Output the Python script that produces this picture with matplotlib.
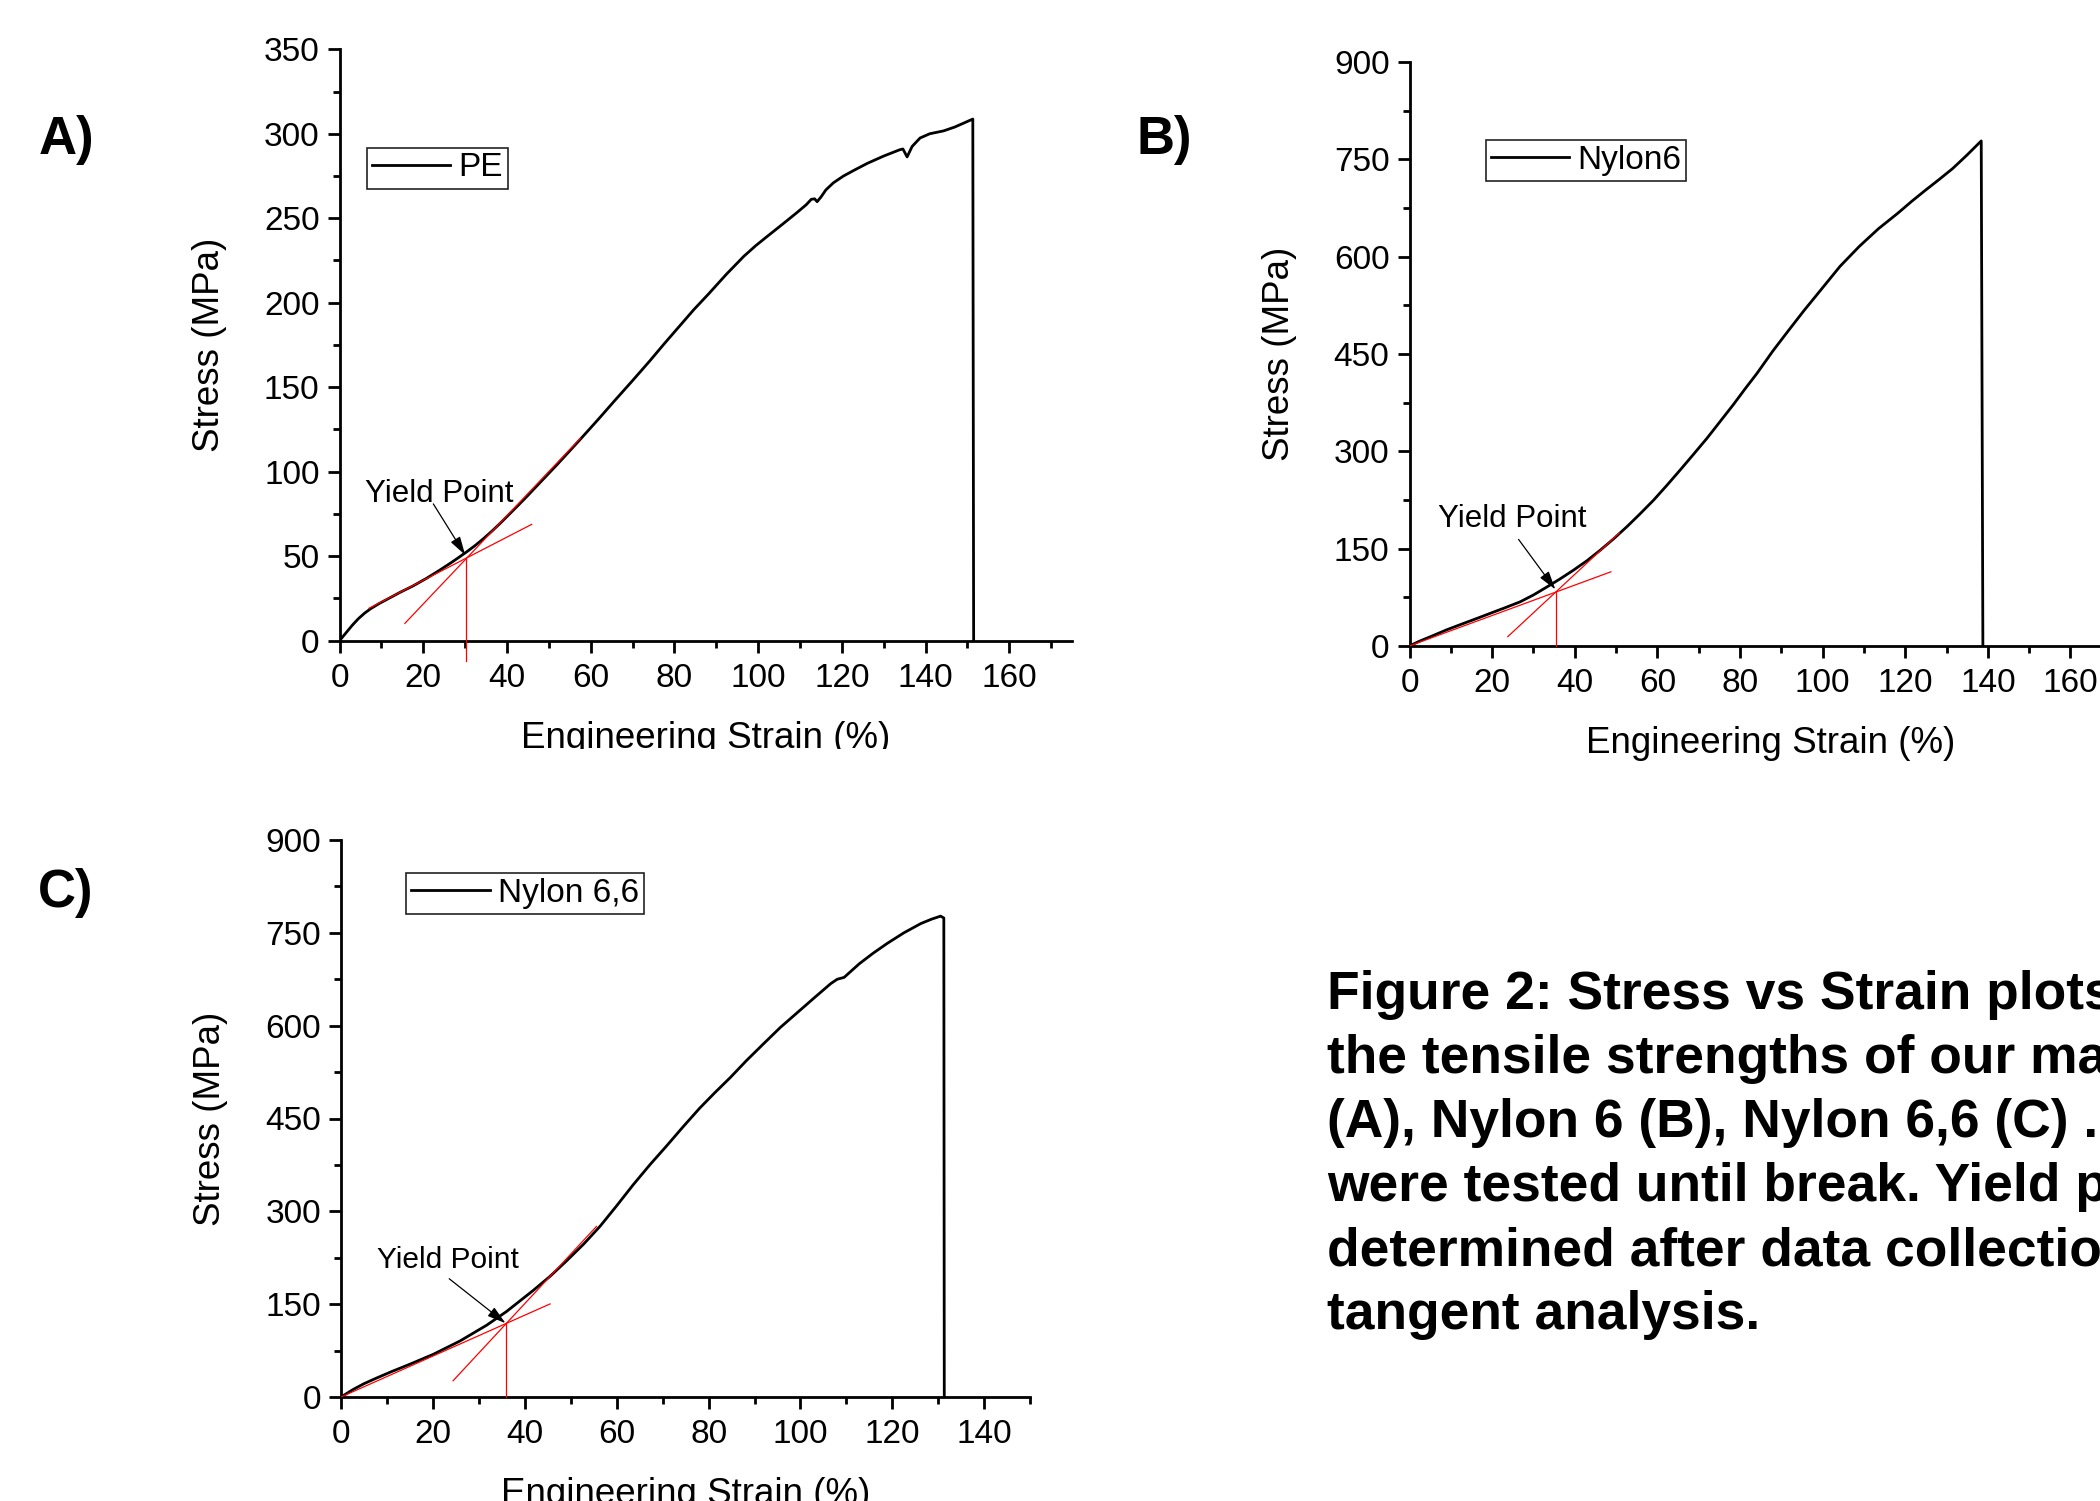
import matplotlib
matplotlib.use("Agg")
import matplotlib.pyplot as plt
from matplotlib.ticker import MultipleLocator
from matplotlib.transforms import Bbox

plt.rcParams['font.family'] = ['Liberation Sans', 'DejaVu Sans']

# ---------------- data ----------------
pe_strain = [0, 1.5, 3, 4.5, 6, 7.5, 9.5, 12, 14.4, 17.5, 20.8, 23.6, 26.4, 28.4,
             30.4, 32.4, 34.4, 36.4, 38.4, 40.5, 42.6, 44.7, 48.3, 51.9, 55.1, 58.3,
             62, 65.5, 70, 74.1, 77.6, 81.1, 84.6, 88.2, 92.4, 96.6, 99.4, 102.2,
             105.7, 109.2, 111.5, 112.7, 113.5, 114.1, 115, 116.2, 118, 120.4, 123,
             126.1, 130, 133.8, 134.6, 135.6, 136.8, 138.7, 141, 144.3, 147, 151.3,
             151.5]
pe_stress = [0, 4.5, 9, 13, 16.3, 19, 22, 25.3, 28.5, 32.3, 36.9, 41.2, 45.7, 49.1,
             52.6, 56.3, 60.4, 64.8, 69.5, 74.7, 79.9, 85.2, 94.6, 104, 112.6, 121.3,
             131.5, 141.4, 153.9, 165.5, 175.8, 185.8, 195.8, 205.3, 216.8, 227.5,
             233.7, 239.3, 246.2, 253.2, 258, 261.2, 261.5, 259.8, 262.5, 266.8, 271,
             275, 278.5, 282.5, 286.8, 290.5, 291, 286.3, 292.5, 297.5, 300, 301.7,
             304, 308.7, 0]

n6_strain = [0, 2.5, 5, 9, 13.1, 16.3, 19.5, 23, 26.8, 30, 33.3, 36.5, 39.7, 43,
             46.2, 49.4, 52.6, 55.8, 59.1, 62.3, 65.5, 68.7, 72, 75.2, 78.4, 81.2,
             84.1, 88, 91.6, 95.5, 99.6, 104.2, 108.9, 113.5, 118.2, 121.5, 124.8,
             128.2, 131.5, 135, 138.4, 138.8]
n6_stress = [0, 7.5, 14, 24.8, 34.7, 42.3, 50.1, 58.5, 68, 78.5, 91, 103.5, 116.8,
             131.5, 147.7, 165, 183.6, 203.5, 224.8, 247.5, 271, 295, 320, 346, 372,
             396, 420, 455, 485, 517, 549, 585, 616, 643, 667, 685, 702, 719, 736,
             757, 778.5, 0]

n66_strain = [0, 2.7, 5, 7.7, 11, 15, 20.1, 25.9, 31.7, 36, 41.8, 45.5, 49.1, 52.8,
              56.4, 60, 63.6, 67.2, 70.9, 74.5, 78.1, 81.4, 84.7, 88.3, 92, 95.6,
              99.3, 103, 106.6, 108, 109.5, 111, 112.8, 115.8, 118.9, 122.5, 126.2,
              128.5, 130.5, 131.2, 131.3]
n66_stress = [0, 12.4, 21.5, 30.5, 41, 53, 69, 90.5, 116, 138, 172, 195, 220, 247,
              276, 309, 343, 375, 406, 437, 467, 492, 516, 544, 571, 597, 621, 645,
              668, 675, 678, 688, 700, 717, 733, 750, 765, 772, 777, 774, 0]

# tangent-line analysis: [x0, x1], [y0, y1]; yield point (x, y)
pe_tan_low_x, pe_tan_low_y = [7.0, 45.9], [19.1, 68.8]
pe_tan_steep_x, pe_tan_steep_y = [15.6, 57.5], [10.2, 119.7]
pe_yield = (30.3, 48.8)

n6_tan_low_x, n6_tan_low_y = [0, 48.75], [0, 114.2]
n6_tan_steep_x, n6_tan_steep_y = [23.8, 50.8], [14.3, 174.2]
n6_yield = (35.4, 83.0)

n66_tan_low_x, n66_tan_low_y = [0, 45.5], [0, 150.4]
n66_tan_steep_x, n66_tan_steep_y = [24.4, 55.6], [26.3, 275.6]
n66_yield = (36.0, 119.0)

legend_labels = ["PE", "Nylon6", "Nylon 6,6"]
panel_letters = ["A)", "B)", "C)"]
x_label = "Engineering Strain (%)"
y_label = "Stress (MPa)"
caption_lines = [
    "Figure 2: Stress vs Strain plots showing",
    "the tensile strengths of our materials PE",
    "(A), Nylon 6 (B), Nylon 6,6 (C) . All samples",
    "were tested until break. Yield points were",
    "determined after data collection via",
    "tangent analysis.",
]

# ---------------- figure ----------------
W, H = 2100, 1501
fig = plt.figure(figsize=(W / 100, H / 100), dpi=100)

TICK_FS = 24
LABEL_FS = 26.5
AX_LW = 2.0


def make_axes(rect, xlim, ylim, xmaj, xmin, ymaj, ymin):
    ax = fig.add_axes(rect)
    ax.set_xlim(*xlim)
    ax.set_ylim(*ylim)
    for s in ("top", "right"):
        ax.spines[s].set_visible(False)
    for s in ("left", "bottom"):
        ax.spines[s].set_linewidth(AX_LW)
    ax.xaxis.set_major_locator(MultipleLocator(xmaj))
    ax.xaxis.set_minor_locator(MultipleLocator(xmin))
    ax.yaxis.set_major_locator(MultipleLocator(ymaj))
    ax.yaxis.set_minor_locator(MultipleLocator(ymin))
    ax.tick_params(which="major", direction="out", length=8.6, width=AX_LW,
                   labelsize=TICK_FS)
    ax.tick_params(which="minor", direction="out", length=5, width=AX_LW)
    ax.tick_params(axis="x", which="major", pad=7.5)
    ax.tick_params(axis="y", which="major", pad=5.8)
    ax.set_xlabel(x_label, fontsize=LABEL_FS, labelpad=19.5)
    ax.set_ylabel(y_label, fontsize=LABEL_FS, labelpad=26.5)
    ax.patch.set_alpha(0)
    return ax


def draw(ax, sx, sy, label, lowx, lowy, stx, sty, yld, ybottom,
         text_xy, arrow_tail, arrow_tip, text_fs, leg_anchor):
    ax.plot(sx, sy, color="black", lw=2.0, label=label, zorder=3,
            solid_joinstyle="round")
    ax.plot(lowx, lowy, color="red", lw=0.9, zorder=4)
    ax.plot(stx, sty, color="red", lw=0.9, zorder=4)
    ax.plot([yld[0], yld[0]], [yld[1], ybottom], color="red", lw=0.9,
            zorder=4, clip_on=False)
    ax.text(text_xy[0], text_xy[1], "Yield Point", fontsize=text_fs,
            ha="left", va="baseline", zorder=5)
    ax.annotate("", xy=arrow_tip, xytext=arrow_tail,
                arrowprops=dict(arrowstyle="-|>,head_length=0.75,head_width=0.22",
                                color="black", lw=0.9, mutation_scale=15,
                                shrinkA=0, shrinkB=0), zorder=5)
    leg = ax.legend(loc="upper left", bbox_to_anchor=leg_anchor,
                    bbox_transform=fig.transFigure, borderaxespad=0,
                    fontsize=24, frameon=True, fancybox=False, shadow=False,
                    borderpad=0.15, handlelength=2.35, handletextpad=0.25,
                    framealpha=1)
    leg.get_frame().set_edgecolor("#222222")
    leg.get_frame().set_linewidth(1.2)
    return leg


# Panel A
axA = make_axes([339.6 / W, 1 - 640.6 / H, (1072 - 339.6) / W, (640.6 - 49.3) / H],
                (0, 175), (0, 350), 20, 10, 50, 25)
draw(axA, pe_strain, pe_stress, legend_labels[0], pe_tan_low_x, pe_tan_low_y,
     pe_tan_steep_x, pe_tan_steep_y, pe_yield, -12,
     (6.1, 82.2), (22.4, 80.9), (30.0, 50.7), 22.5,
     (366.6 / W, 1 - 147.5 / H))
# x label of panel A is cut by the panel below
xlA = axA.xaxis.label
xlA.set_clip_box(Bbox.from_extents(0, H - 748.5, W, H))
xlA.set_clip_on(True)

# Panel B
axB = make_axes([1409.5 / W, 1 - 645.9 / H, 175 * 4.131 / W, (645.9 - 62.1) / H],
                (0, 175), (0, 900), 20, 10, 150, 75)
draw(axB, n6_strain, n6_stress, legend_labels[1], n6_tan_low_x, n6_tan_low_y,
     n6_tan_steep_x, n6_tan_steep_y, n6_yield, 0,
     (7.0, 183.6), (26.4, 164.2), (35.3, 87.1), 22.5,
     (1485.7 / W, 1 - 139.5 / H))

# Panel C
axC = make_axes([341.0 / W, 1 - 1397 / H, (1030.2 - 341.0) / W, (1397 - 840) / H],
                (0, 150), (0, 900), 20, 10, 150, 75)
draw(axC, n66_strain, n66_stress, legend_labels[2], n66_tan_low_x, n66_tan_low_y,
     n66_tan_steep_x, n66_tan_steep_y, n66_yield, 0,
     (7.9, 208.9), (23.55, 191.1), (35.8, 119.3), 21.5,
     (406.2 / W, 1 - 873 / H))

# panel letters
for letter, (px, py) in zip(panel_letters, [(38.3, 154), (1137, 154), (38.3, 907)]):
    fig.text(px / W, 1 - py / H, letter, fontsize=38, fontweight="bold",
             ha="left", va="baseline")

# caption
for i, line in enumerate(caption_lines):
    fig.text(1327 / W, 1 - (1009 + i * 64) / H, line, fontsize=38.4,
             fontweight="bold", ha="left", va="baseline")

fig.savefig("out.png", dpi=100)
